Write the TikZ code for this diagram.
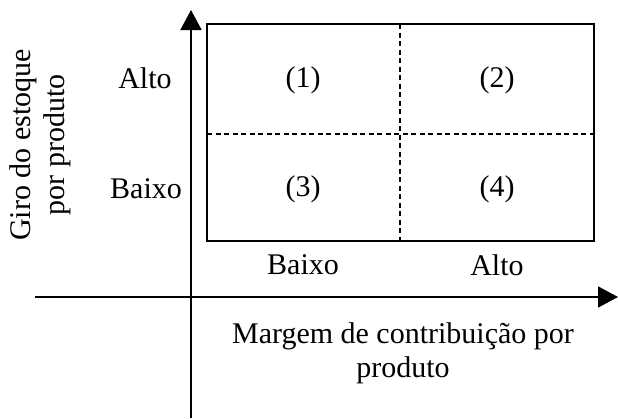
\documentclass[tikz,border=0pt]{standalone}
\usepackage{fontspec}
\setmainfont{Liberation Serif}
\usetikzlibrary{arrows.meta}
\begin{document}
\begin{tikzpicture}[x=1pt,y=-1pt,
    axis/.style={line width=1.8pt, -{Triangle[width=21pt,length=20pt]}},
    quad/.style={draw, line width=2pt},
    divider/.style={line width=2pt, dash pattern=on 5pt off 3.5pt},
    lbl/.style={font=\fontsize{30}{34}\selectfont, inner sep=0pt},
    ]
    \useasboundingbox (0,0) rectangle (618,418);
    % axes
    \coordinate (ytop) at (191,10);
    \coordinate (ybot) at (191,418);
    \coordinate (xleft) at (35,297);
    \coordinate (xright) at (618,297);
    \draw[axis] (ybot) -- (ytop);
    \draw[axis] (xleft) -- (xright);
    % matrix box
    \coordinate (nw) at (207,24);
    \coordinate (se) at (594,241);
    \coordinate (mtop) at (400,24);
    \coordinate (mbot) at (400,241);
    \coordinate (mleft) at (207,134);
    \coordinate (mright) at (594,134);
    \draw[divider] (mtop) -- (mbot);
    \draw[divider] (mleft) -- (mright);
    \draw[quad] (nw) rectangle (se);
    \node[lbl] (q1) at (303,80) {(1)};
    \node[lbl] (q2) at (497,80) {(2)};
    \node[lbl] (q3) at (303,189) {(3)};
    \node[lbl] (q4) at (497,189) {(4)};
    % levels
    \node[lbl] (yhigh) at (145,78) {Alto};
    \node[lbl] (ylow) at (146,189) {Baixo};
    \node[lbl] (xlow) at (303,265) {Baixo};
    \node[lbl] (xhigh) at (497,265) {Alto};
    % axis titles
    \node[lbl, rotate=90, align=center] (ytitle) at (40,145) {Giro do estoque\\por produto};
    \node[lbl, align=center, anchor=north] (xtitle) at (403,322) {Margem de contribuição por\\produto};
\end{tikzpicture}
\end{document}
